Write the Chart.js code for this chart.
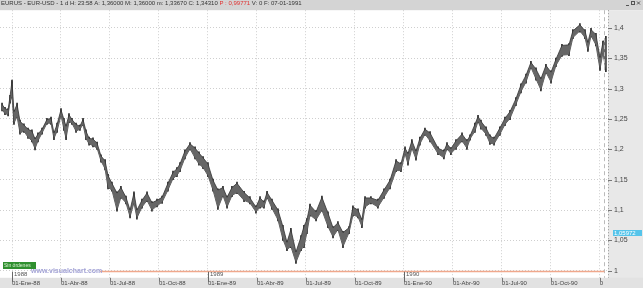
<!DOCTYPE html>
<html>
<head>
<meta charset="utf-8">
<script src="https://cdn.jsdelivr.net/npm/chart.js@4/dist/chart.umd.min.js"></script>
<style>
  html, body { margin: 0; padding: 0; background: #fff; }
  #chart { display: block; }
</style>
</head>
<body>
<canvas id="chart" width="643" height="288"></canvas>
<script>
// months since 01-Ene-88
const months = [-0.61,-0.43,-0.24,-0.12,0,0.12,0.31,0.49,0.73,0.98,
  1.22,1.41,1.59,1.84,2.14,2.39,2.57,2.76,3.00,3.18,
  3.31,3.49,3.67,3.92,4.16,4.35,4.53,4.72,4.96,5.21,
  5.45,5.70,5.88,6.12,6.43,6.67,6.98,7.23,7.47,7.65,
  7.96,8.27,8.57,8.88,9.19,9.55,9.86,10.10,10.29,10.59,
  10.90,11.21,11.45,11.70,12.00,12.31,12.61,12.92,13.17,13.47,
  13.78,14.21,14.57,14.94,15.19,15.43,15.62,15.92,16.29,16.59,
  16.84,17.08,17.39,17.70,17.88,18.06,18.25,18.62,18.98,19.35,
  19.66,19.96,20.27,20.64,20.88,21.19,21.43,21.62,21.98,22.41,
  22.78,23.15,23.52,23.82,24.07,24.25,24.49,24.74,24.98,25.29,
  25.60,26.09,26.45,26.64,26.88,27.19,27.56,27.86,28.05,28.35,
  28.54,28.72,29.03,29.27,29.52,29.88,30.19,30.50,30.86,31.17,
  31.48,31.78,32.09,32.39,32.70,33.01,33.31,33.68,34.11,34.35,
  34.78,35.09,35.27,35.46,35.76,36.01,36.19,36.37];

const highs = [1.274,1.267,1.265,1.287,1.312,1.262,1.274,1.246,1.240,1.233,
  1.230,1.217,1.225,1.233,1.249,1.251,1.227,1.241,1.265,1.249,
  1.238,1.257,1.249,1.241,1.238,1.249,1.230,1.218,1.217,1.210,
  1.189,1.181,1.157,1.144,1.128,1.137,1.121,1.100,1.128,1.100,
  1.116,1.128,1.112,1.116,1.121,1.144,1.162,1.168,1.176,1.197,
  1.209,1.202,1.194,1.186,1.176,1.149,1.133,1.137,1.121,1.137,
  1.144,1.129,1.120,1.105,1.120,1.113,1.129,1.116,1.100,1.073,
  1.047,1.068,1.031,1.056,1.073,1.084,1.108,1.097,1.121,1.095,
  1.071,1.079,1.063,1.071,1.105,1.100,1.084,1.120,1.120,1.116,
  1.133,1.149,1.181,1.176,1.202,1.193,1.214,1.197,1.218,1.233,
  1.227,1.202,1.197,1.209,1.201,1.214,1.225,1.214,1.222,1.241,
  1.254,1.246,1.235,1.222,1.218,1.235,1.251,1.262,1.283,1.306,
  1.322,1.343,1.332,1.316,1.338,1.327,1.348,1.371,1.372,1.395,
  1.405,1.395,1.376,1.397,1.389,1.351,1.376,1.384];

const lows = [1.265,1.259,1.257,1.278,1.287,1.243,1.254,1.227,1.230,1.220,
  1.214,1.201,1.214,1.227,1.243,1.243,1.218,1.230,1.256,1.233,
  1.218,1.246,1.243,1.230,1.233,1.241,1.218,1.209,1.206,1.202,
  1.181,1.168,1.137,1.133,1.100,1.121,1.112,1.089,1.112,1.087,
  1.105,1.116,1.100,1.107,1.113,1.133,1.152,1.157,1.165,1.186,
  1.201,1.186,1.176,1.170,1.157,1.133,1.103,1.124,1.105,1.124,
  1.129,1.116,1.112,1.097,1.105,1.105,1.121,1.103,1.084,1.052,
  1.035,1.040,1.014,1.035,1.040,1.063,1.092,1.084,1.100,1.073,
  1.056,1.068,1.040,1.063,1.092,1.089,1.073,1.105,1.112,1.105,
  1.121,1.137,1.165,1.165,1.193,1.176,1.202,1.184,1.209,1.225,
  1.214,1.193,1.186,1.201,1.193,1.202,1.214,1.202,1.217,1.230,
  1.246,1.235,1.225,1.210,1.209,1.225,1.241,1.251,1.274,1.295,
  1.311,1.335,1.316,1.298,1.327,1.311,1.338,1.355,1.356,1.384,
  1.395,1.384,1.363,1.387,1.372,1.332,1.359,1.330];

const xTickMonths = [0,3,6,9,12,15,18,21,24,27,30,33,36];
const xTickLabels = ["01-Ene-88","01-Abr-88","01-Jul-88","01-Oct-88","01-Ene-89","01-Abr-89",
  "01-Jul-89","01-Oct-89","01-Ene-90","01-Abr-90","01-Jul-90","01-Oct-90","0"];
const yTickValues = [1,1.05,1.1,1.15,1.2,1.25,1.3,1.35,1.4];
const yTickLabels = ["1","1,05","1,1","1,15","1,2","1,25","1,3","1,35","1,4"];
const yearMonths = [0,12,24];
const yearLabels = ["1988","1989","1990"];
const orderLevel = 0.999;
const priceTag = 1.0615;
const priceTagLabel = "1,05972";
const lastBarMonth = 36.25;

const titlePart1 = "EURUS - EUR-USD - 1 d H: 23:58 A: 1,36000 M: 1,36000 m: 1,33670 C: 1,34310 ";
const titlePart2 = "P : 0,99771";
const titlePart3 = " V: 0 F: 07-01-1991";

const FONT = "'Liberation Sans', Arial, sans-serif";

// fondos, barra de titulo, etiquetas extra
const decor = {
  id: "decor",
  beforeDraw(chart) {
    const ctx = chart.ctx;
    const area = chart.chartArea;
    ctx.save();
    ctx.fillStyle = "#fff";
    ctx.fillRect(0, 0, chart.width, chart.height);
    // barra superior
    ctx.fillStyle = "#d4d4d4";
    ctx.fillRect(0, 0, chart.width, area.top);
    // eje derecho
    ctx.fillStyle = "#e8e8e8";
    ctx.fillRect(area.right, area.top, chart.width - area.right, chart.height - area.top);
    // franja inferior
    ctx.fillStyle = "#e2e2e2";
    ctx.fillRect(0, area.bottom, chart.width, chart.height - area.bottom);
    ctx.restore();
  },
  afterDraw(chart) {
    const ctx = chart.ctx;
    const area = chart.chartArea;
    const xs = chart.scales.x;
    const ys = chart.scales.y;
    ctx.save();

    // texto de la barra de titulo
    ctx.font = "6px " + FONT;
    ctx.textBaseline = "middle";
    ctx.textAlign = "left";
    let tx = 1;
    ctx.fillStyle = "#333";
    ctx.fillText(titlePart1, tx, 3.5);
    tx += ctx.measureText(titlePart1).width;
    ctx.fillStyle = "#e03030";
    ctx.fillText(titlePart2, tx, 3.5);
    tx += ctx.measureText(titlePart2).width;
    ctx.fillStyle = "#333";
    ctx.fillText(titlePart3, tx, 3.5);

    // iconos de ventana
    ctx.strokeStyle = "#555";
    ctx.lineWidth = 1;
    ctx.beginPath();
    ctx.moveTo(626, 5.5); ctx.lineTo(629, 5.5);
    ctx.stroke();
    ctx.strokeRect(631.5, 1.5, 3, 3);
    ctx.beginPath();
    ctx.moveTo(637, 1.5); ctx.lineTo(640, 4.5);
    ctx.moveTo(640, 1.5); ctx.lineTo(637, 4.5);
    ctx.stroke();

    // linea vertical discontinua de la ultima barra
    const lx = Math.round(xs.getPixelForValue(lastBarMonth)) + 0.5;
    ctx.strokeStyle = "#bbb";
    ctx.setLineDash([4, 3]);
    ctx.beginPath();
    ctx.moveTo(lx, area.top);
    ctx.lineTo(lx, area.bottom);
    ctx.stroke();
    ctx.setLineDash([]);

    // borde y marcas del eje derecho
    ctx.strokeStyle = "#999";
    ctx.setLineDash([1, 2]);
    ctx.beginPath();
    ctx.moveTo(area.right + 0.5, area.top);
    ctx.lineTo(area.right + 0.5, area.bottom);
    ctx.stroke();
    ctx.setLineDash([]);
    ctx.strokeStyle = "#777";
    yTickValues.forEach((v) => {
      const y = Math.round(ys.getPixelForValue(v)) + 0.5;
      ctx.beginPath();
      ctx.moveTo(area.right, y);
      ctx.lineTo(area.right + 4, y);
      ctx.stroke();
    });

    // marcas del eje inferior
    xTickMonths.forEach((m) => {
      const x = Math.round(xs.getPixelForValue(m)) + 0.5;
      ctx.beginPath();
      ctx.moveTo(x, area.bottom);
      ctx.lineTo(x, area.bottom + 4);
      ctx.stroke();
    });

    // linea naranja de ordenes
    const oy = Math.round(ys.getPixelForValue(orderLevel)) + 0.5;
    ctx.strokeStyle = "#f0a88c";
    ctx.lineWidth = 1.5;
    ctx.beginPath();
    ctx.moveTo(100, oy);
    ctx.lineTo(lx, oy);
    ctx.stroke();
    ctx.lineWidth = 1;

    // marca de agua
    ctx.font = "bold 7px " + FONT;
    ctx.fillStyle = "#a3a3d6";
    ctx.textBaseline = "middle";
    ctx.fillText("www.visualchart.com", 31, oy);

    // caja verde
    ctx.fillStyle = "#2f8f2f";
    ctx.fillRect(3, 262, 33, 7);
    ctx.font = "5px " + FONT;
    ctx.fillStyle = "#d8f0d0";
    ctx.fillText("Sin órdenes", 4, 265.7);

    // años
    ctx.font = "6px " + FONT;
    ctx.textBaseline = "top";
    yearMonths.forEach((m, i) => {
      const x = Math.round(xs.getPixelForValue(m)) + 0.5;
      ctx.strokeStyle = "#666";
      ctx.beginPath();
      ctx.moveTo(x, area.bottom - 6);
      ctx.lineTo(x, area.bottom + 4);
      ctx.stroke();
      ctx.fillStyle = "#555";
      ctx.fillText(yearLabels[i], x + 1.5, area.bottom - 6);
    });

    // etiqueta de precio
    const py = Math.round(ys.getPixelForValue(priceTag));
    ctx.fillStyle = "#55c4ea";
    ctx.fillRect(area.right + 5, py - 3, 29, 6);
    ctx.font = "6px " + FONT;
    ctx.fillStyle = "#fff";
    ctx.textBaseline = "middle";
    ctx.fillText(priceTagLabel, area.right + 6, py + 0.5);

    ctx.restore();
  }
};

const ctx = document.getElementById("chart").getContext("2d");

new Chart(ctx, {
  type: "line",
  data: {
    datasets: [
      {
        data: months.map((m, i) => ({ x: m, y: highs[i] })),
        borderColor: "#333",
        backgroundColor: "#666",
        borderWidth: 0.8,
        pointRadius: 0,
        tension: 0,
        fill: "+1",
      },
      {
        data: months.map((m, i) => ({ x: m, y: lows[i] })),
        borderColor: "#333",
        borderWidth: 0.8,
        pointRadius: 0,
        tension: 0,
        fill: false,
      },
      {
        // barras maximo-minimo
        type: "bar",
        data: months.map((m, i) => ({ x: m, y: [lows[i] - 0.002, highs[i] + 0.002] })),
        backgroundColor: "#2a2a2a",
        barThickness: 1,
      },
    ],
  },
  options: {
    responsive: false,
    animation: false,
    devicePixelRatio: 1,
    layout: { padding: { top: 7, left: 0, right: 0, bottom: 0 } },
    plugins: {
      legend: { display: false },
      tooltip: { enabled: false },
    },
    scales: {
      x: {
        type: "linear",
        offset: false,
        min: -0.735,
        max: 36.5,
        afterBuildTicks: (scale) => {
          scale.ticks = xTickMonths.map((v) => ({ value: v }));
        },
        afterFit: (scale) => {
          scale.height = 9;
        },
        grid: { color: "#cfcfcf", drawTicks: false, offset: false },
        border: { display: false, dash: [1, 2] },
        ticks: {
          autoSkip: false,
          maxRotation: 0,
          align: "start",
          padding: 2,
          color: "#444",
          font: { size: 6, family: FONT },
          callback: (v, i) => xTickLabels[i],
        },
      },
      y: {
        position: "right",
        min: 0.9885,
        max: 1.429,
        afterBuildTicks: (scale) => {
          scale.ticks = yTickValues.map((v) => ({ value: v }));
        },
        afterFit: (scale) => {
          scale.width = 35;
        },
        grid: { color: "#cfcfcf", drawTicks: false },
        border: { display: false, dash: [1, 2] },
        ticks: {
          padding: 6,
          color: "#444",
          font: { size: 7, family: FONT },
          callback: (v, i) => yTickLabels[i],
        },
      },
    },
  },
  plugins: [decor],
});
</script>
</body>
</html>
